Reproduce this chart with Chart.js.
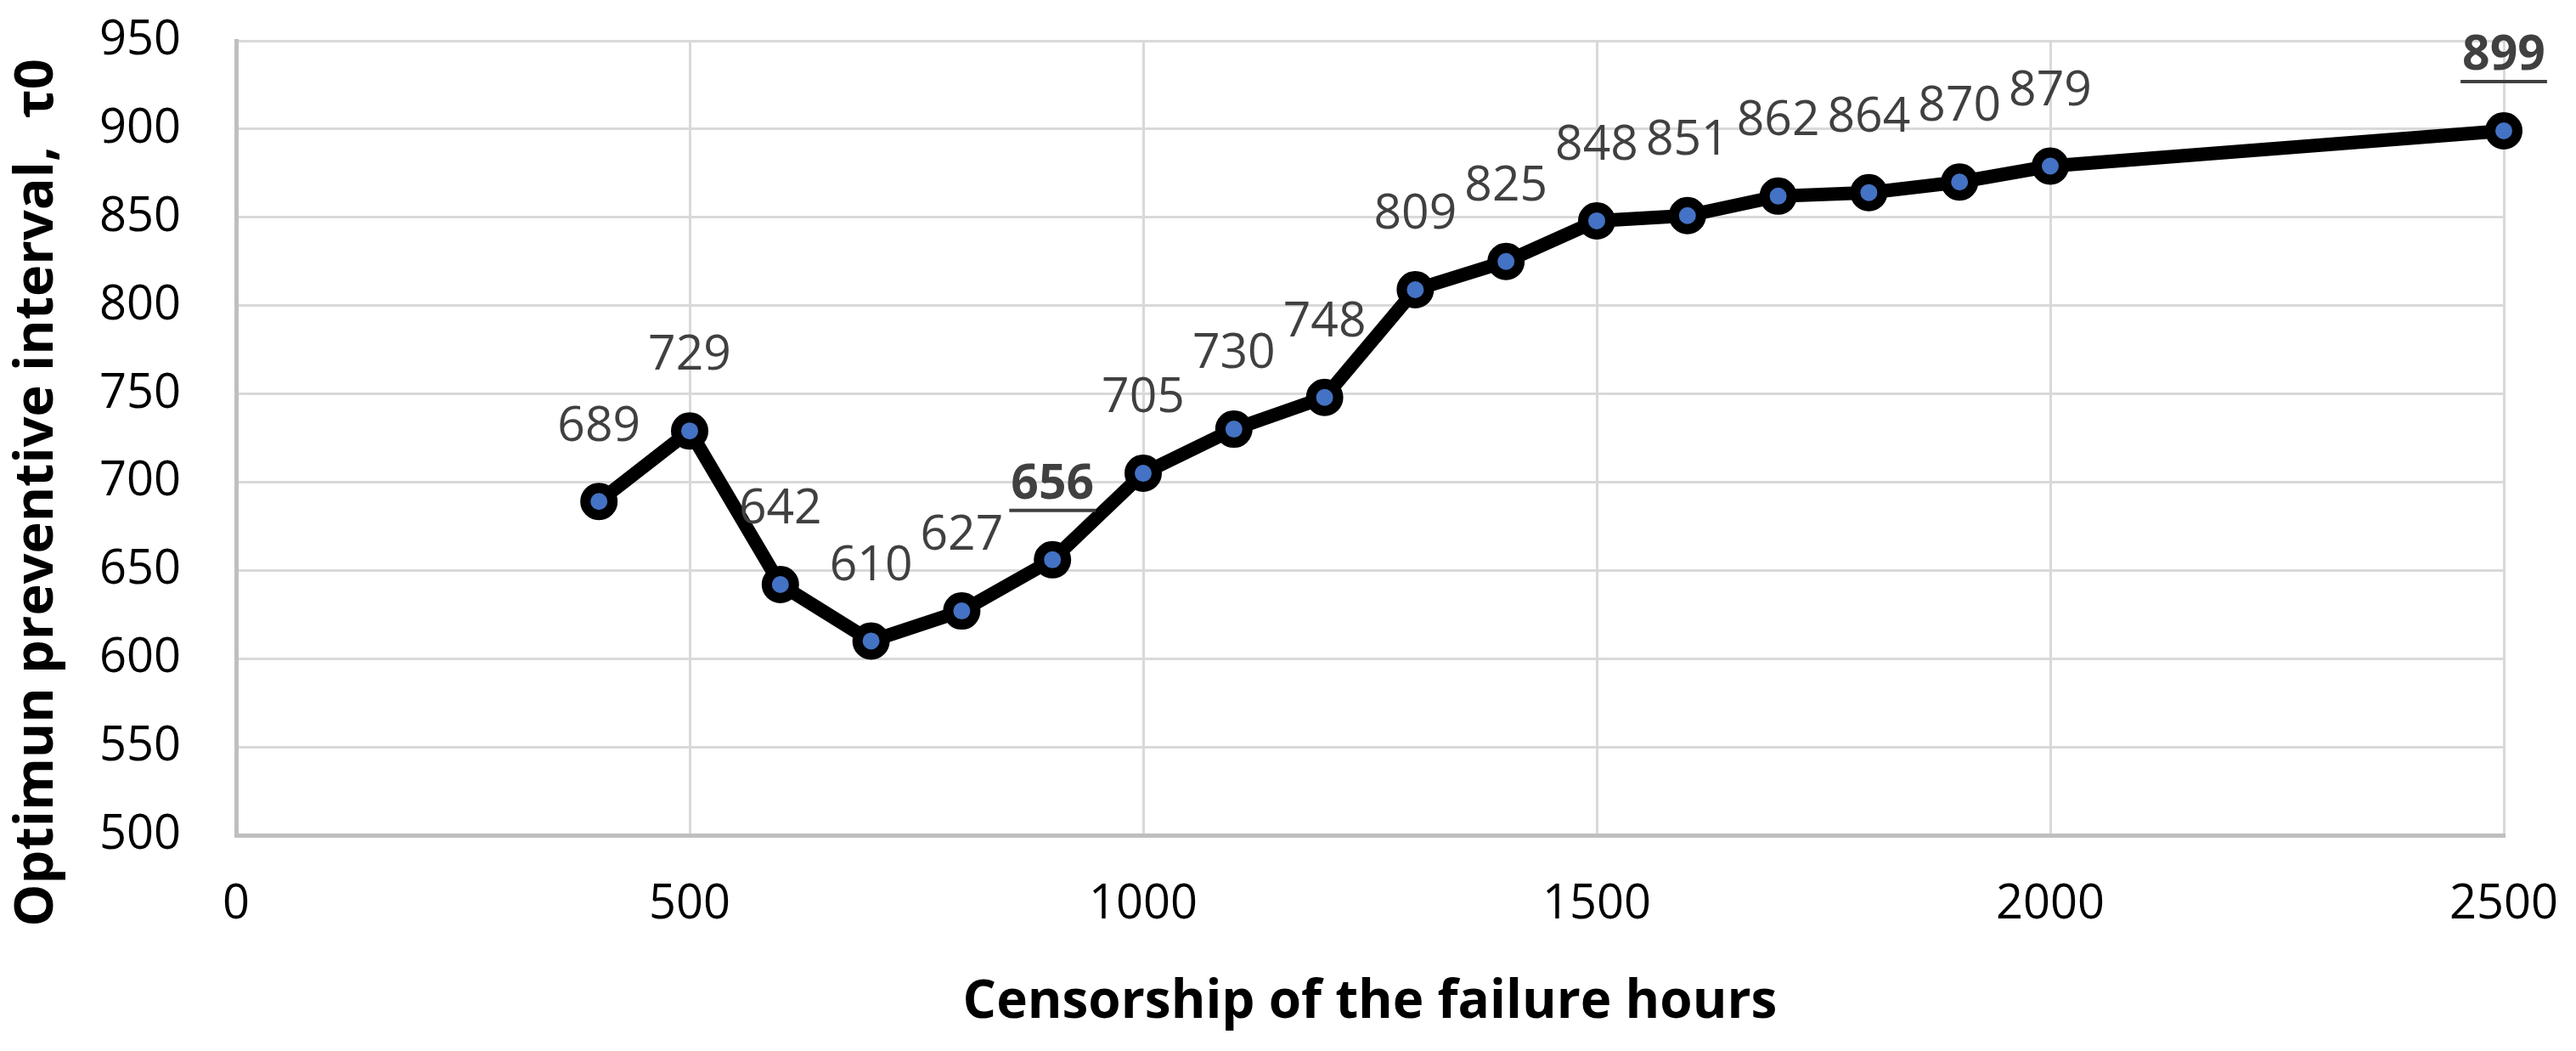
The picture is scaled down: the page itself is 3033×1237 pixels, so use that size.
<!DOCTYPE html>
<html>
<head>
<meta charset="utf-8">
<script src="https://cdn.jsdelivr.net/npm/chart.js@4.4.1/dist/chart.umd.min.js"></script>
<style>
	html, body { margin: 0; padding: 0; background: #fff; }
</style>
</head>
<body>
<canvas id="myChart" width="3033" height="1237"></canvas>
<script>
//Chart data

const hours = [400, 500, 600, 700, 800, 900, 1000, 1100, 1200, 1300, 1400, 1500, 1600, 1700, 1800, 1900, 2000, 2500];
const interval = [689, 729, 642, 610, 627, 656, 705, 730, 748, 809, 825, 848, 851, 862, 864, 870, 879, 899];
const xTicks = [0, 500, 1000, 1500, 2000, 2500];
const yTicks = [500, 550, 600, 650, 700, 750, 800, 850, 900, 950];
const highlighted = [656, 899];

const xTitle = 'Censorship of the failure hours';
const yTitle = 'Optimun preventive interval,  \u03c40';

//Value labels over the points

const valueLabels = {
	id: 'valueLabels',
	afterDatasetsDraw(chart) {
		let ctx = chart.ctx;
		let meta = chart.getDatasetMeta(0);
		ctx.save();
		ctx.fillStyle = '#404040';
		ctx.strokeStyle = '#404040';
		ctx.textAlign = 'center';
		ctx.textBaseline = 'middle';
		meta.data.forEach((pt, i) => {
			let value = interval[i];
			let bold = highlighted.includes(value);
			ctx.font = (bold ? 'bold ' : '') + '57px "Open Sans"';
			let text = String(value);
			let y = pt.y - 88;
			ctx.fillText(text, pt.x, y);
			if (bold) {
				let w = ctx.measureText(text).width;
				ctx.lineWidth = 4;
				ctx.beginPath();
				ctx.moveTo(pt.x - w / 2 - 2, y + 30);
				ctx.lineTo(pt.x + w / 2 + 2, y + 30);
				ctx.stroke();
			}
		});
		ctx.restore();
	}
};

//Y axis title (sits lower than the plot centre, like the original)

const yAxisTitle = {
	id: 'yAxisTitle',
	afterDraw(chart) {
		let ctx = chart.ctx;
		ctx.save();
		ctx.translate(44, 580);
		ctx.rotate(-Math.PI / 2);
		ctx.font = 'bold 63px "Open Sans"';
		ctx.fillStyle = '#000000';
		ctx.textAlign = 'center';
		ctx.textBaseline = 'middle';
		ctx.fillText(yTitle, 0, 0);
		ctx.restore();
	}
};

//Build chart

const ctx = document.getElementById('myChart').getContext('2d');
const myChart = new Chart(ctx, {
	type: 'line',
	data: {
		datasets: [{
			data: hours.map((h, i) => ({ x: h, y: interval[i] })),
			borderColor: '#000000',
			borderWidth: 16,
			tension: 0,
			pointRadius: 16,
			pointHoverRadius: 16,
			pointBorderWidth: 12,
			pointBackgroundColor: '#4472C4',
			pointBorderColor: '#000000',
			clip: false
		}]
	},
	options: {
		responsive: false,
		animation: false,
		events: [],
		layout: {
			padding: { top: 48, right: 85, bottom: 0, left: 0 }
		},
		plugins: {
			legend: { display: false },
			tooltip: { enabled: false }
		},
		scales: {
			x: {
				type: 'linear',
				min: xTicks[0],
				max: xTicks[xTicks.length - 1],
				afterBuildTicks: (scale) => { scale.ticks = xTicks.map(v => ({ value: v })); },
				afterFit: (scale) => {
					scale.height = 254;
					scale.paddingLeft = 0;
					scale.paddingRight = 0;
				},
				grid: { color: '#d9d9d9', lineWidth: 3, drawTicks: false },
				border: { color: '#bfbfbf', width: 5 },
				ticks: {
					padding: 48,
					color: '#000000',
					maxRotation: 0,
					font: { family: '"Open Sans"', size: 56 },
					callback: (v) => String(v)
				},
				title: {
					display: true,
					text: xTitle,
					color: '#000000',
					padding: { top: 0, bottom: 19 },
					font: { family: '"Open Sans"', size: 62, weight: 'bold' }
				}
			},
			y: {
				min: yTicks[0],
				max: yTicks[yTicks.length - 1],
				afterBuildTicks: (scale) => { scale.ticks = yTicks.map(v => ({ value: v })); },
				afterFit: (scale) => {
					scale.width = 278;
					scale.paddingTop = 0;
					scale.paddingBottom = 0;
				},
				grid: { color: '#d9d9d9', lineWidth: 3, drawTicks: false },
				border: { color: '#bfbfbf', width: 5 },
				ticks: {
					padding: 65,
					color: '#000000',
					font: { family: '"Open Sans"', size: 56 },
					callback: (v) => String(v)
				}
			}
		}
	},
	plugins: [valueLabels, yAxisTitle]
});
</script>
</body>
</html>
